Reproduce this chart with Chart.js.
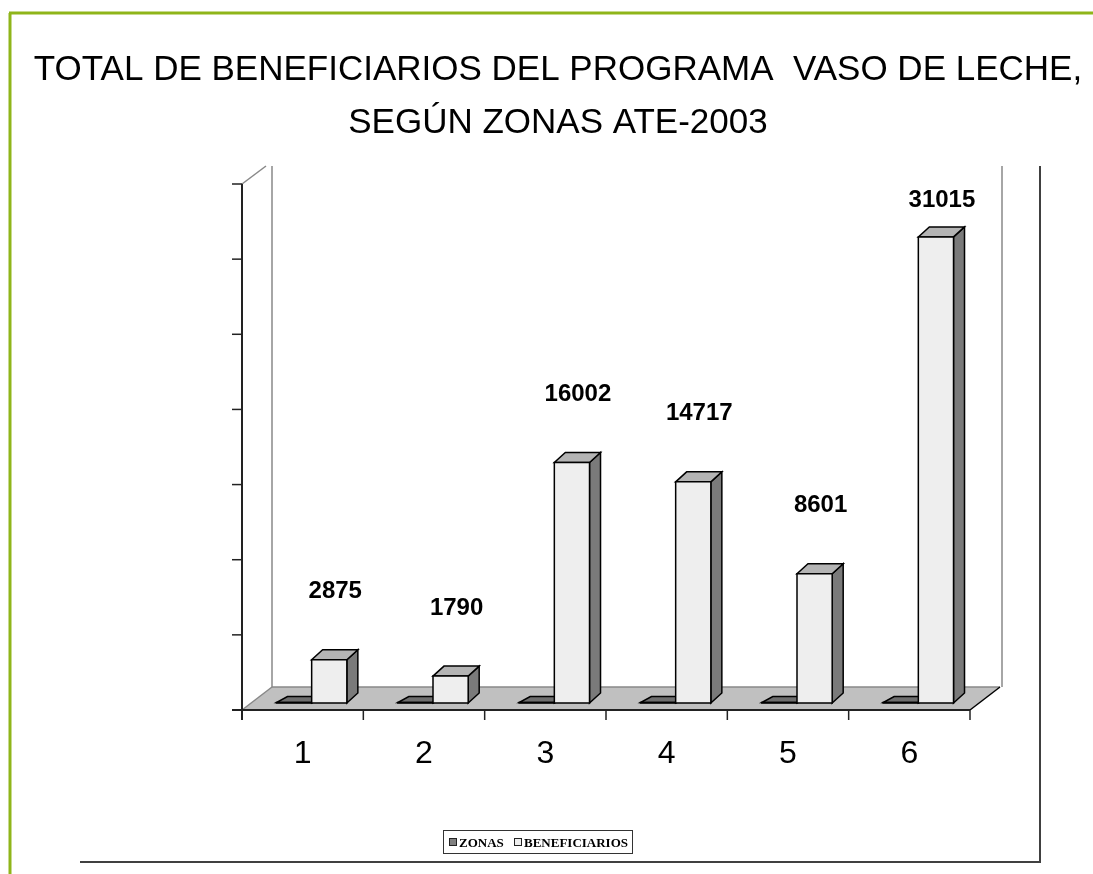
<!DOCTYPE html>
<html>
<head>
<meta charset="utf-8">
<script src="https://cdn.jsdelivr.net/npm/chart.js@4"></script>
<style>
  body { margin: 0; background: #fff; }
  #wrap { width: 1093px; height: 874px; position: relative; }
</style>
</head>
<body>
<div id="wrap"><canvas id="chart"></canvas></div>
<script>
// data ====================================
const categories = ["1", "2", "3", "4", "5", "6"];
const zonas = [1, 2, 3, 4, 5, 6];
const beneficiarios = [2875, 1790, 16002, 14717, 8601, 31015];
const yTicks = [0, 5000, 10000, 15000, 20000, 25000, 30000, 35000];
const titleLines = ["TOTAL DE BENEFICIARIOS DEL PROGRAMA  VASO DE LECHE,", "SEGÚN ZONAS ATE-2003"];

// 3d look
const floorDepth = { x: 30, y: -23 };
const barShift = { x: 9, y: -7 };
const barDepth = { x: 11, y: -10 };

function poly(ctx, pts, fill, stroke, lw) {
  ctx.beginPath();
  ctx.moveTo(pts[0][0], pts[0][1]);
  for (let i = 1; i < pts.length; i++) ctx.lineTo(pts[i][0], pts[i][1]);
  ctx.closePath();
  if (fill) { ctx.fillStyle = fill; ctx.fill(); }
  if (stroke) { ctx.strokeStyle = stroke; ctx.lineWidth = lw || 1; ctx.stroke(); }
}

function line(ctx, x1, y1, x2, y2, color, lw) {
  ctx.beginPath();
  ctx.moveTo(x1, y1);
  ctx.lineTo(x2, y2);
  ctx.strokeStyle = color;
  ctx.lineWidth = lw;
  ctx.stroke();
}

function box(ctx, x0, x1, yTop, yBase, d, colors) {
  poly(ctx, [[x1, yBase], [x1 + d.x, yBase + d.y], [x1 + d.x, yTop + d.y], [x1, yTop]], colors.side, "#000", 1.5);
  poly(ctx, [[x0, yTop], [x1, yTop], [x1 + d.x, yTop + d.y], [x0 + d.x, yTop + d.y]], colors.top, "#000", 1.5);
  poly(ctx, [[x0, yTop], [x1, yTop], [x1, yBase], [x0, yBase]], colors.front, "#000", 1.5);
}

const chart3d = {
  id: "chart3d",
  afterDatasetsDraw(chart) {
    const ctx = chart.ctx;
    const a = chart.chartArea;
    const xs = chart.scales.x;
    const ys = chart.scales.y;
    ctx.save();

    // frame
    line(ctx, 10, 13, 10, 874, "#8fb51a", 3);
    line(ctx, 9, 13, 1093, 13, "#8fb51a", 3);
    line(ctx, 1040, 166, 1040, 863, "#404040", 2);
    line(ctx, 80, 862, 1041, 862, "#404040", 2);

    // title
    ctx.fillStyle = "#000";
    ctx.font = "35px 'Liberation Sans', Arial, sans-serif";
    ctx.textAlign = "center";
    ctx.textBaseline = "alphabetic";
    ctx.fillText(titleLines[0], 558, 80);
    ctx.fillText(titleLines[1], 558, 133);

    // walls
    const bx = a.left + floorDepth.x, by = a.bottom + floorDepth.y;
    const wallTop = a.top - 18;
    line(ctx, a.left, a.top, a.left + 24, wallTop, "#888", 1.5);
    line(ctx, bx, wallTop, bx, by, "#888", 1.5);
    line(ctx, a.right + floorDepth.x + 2, wallTop, a.right + floorDepth.x + 2, by, "#888", 1.5);

    // floor
    poly(ctx, [[a.left, a.bottom], [a.right, a.bottom], [a.right + floorDepth.x, by], [bx, by]], "#c0c0c0", null);
    line(ctx, a.left, a.bottom, bx, by, "#888", 1.5);
    line(ctx, bx, by, a.right + floorDepth.x, by, "#888", 1.5);
    line(ctx, a.right, a.bottom, a.right + floorDepth.x, by, "#000", 1.5);

    // axes
    line(ctx, a.left, a.top, a.left, a.bottom + 10, "#222", 2);
    line(ctx, a.left - 10, a.bottom, a.right, a.bottom, "#222", 2);
    yTicks.forEach((v) => {
      const y = ys.getPixelForValue(v);
      line(ctx, a.left - 10, y, a.left, y, "#222", 1.5);
    });
    const step = (a.right - a.left) / categories.length;
    for (let i = 0; i <= categories.length; i++) {
      const x = a.left + step * i;
      line(ctx, x, a.bottom, x, a.bottom + 10, "#222", 1.5);
    }

    // bars
    const mz = chart.getDatasetMeta(0);
    const mb = chart.getDatasetMeta(1);
    categories.forEach((c, i) => {
      const z = mz.data[i];
      const zx0 = z.x - z.width / 2 + barShift.x, zx1 = z.x + z.width / 2 + barShift.x;
      const zb = z.base + barShift.y;
      box(ctx, zx0, zx1, Math.min(z.y + barShift.y, zb - 0.5), zb, { x: 11, y: -6 },
        { front: "#808080", side: "#606060", top: "#6e6e6e" });

      const b = mb.data[i];
      const x0 = b.x - b.width / 2 + barShift.x, x1 = b.x + b.width / 2 + barShift.x;
      const top = b.y + barShift.y;
      box(ctx, x0, x1, top, b.base + barShift.y, barDepth,
        { front: "#eeeeee", side: "#7a7a7a", top: "#b4b4b4" });
    });

    // value labels
    ctx.font = "bold 24px 'Liberation Sans', Arial, sans-serif";
    ctx.textBaseline = "middle";
    ctx.fillStyle = "#000";
    categories.forEach((c, i) => {
      const b = mb.data[i];
      const top = b.y + barShift.y;
      ctx.fillText(String(beneficiarios[i]), b.x + barShift.x + 6, Math.max(top - 68, a.top + 16));
    });

    // category labels
    ctx.font = "32px 'Liberation Sans', Arial, sans-serif";
    ctx.textBaseline = "alphabetic";
    categories.forEach((c, i) => {
      ctx.fillText(c, xs.getPixelForValue(i), 763);
    });

    // legend
    ctx.strokeStyle = "#333";
    ctx.lineWidth = 1;
    ctx.strokeRect(443.5, 830.5, 189, 23);
    const legend = [
      { x: 449, fill: "#808080", text: chart.data.datasets[0].label },
      { x: 514, fill: "#eeeeee", text: chart.data.datasets[1].label },
    ];
    ctx.font = "bold 13px 'Liberation Serif', 'Times New Roman', serif";
    ctx.textAlign = "left";
    legend.forEach((l) => {
      ctx.fillStyle = l.fill;
      ctx.fillRect(l.x + 0.5, 838.5, 7, 7);
      ctx.strokeStyle = "#222";
      ctx.strokeRect(l.x + 0.5, 838.5, 7, 7);
      ctx.fillStyle = "#000";
      ctx.fillText(l.text, l.x + 10, 847);
    });

    ctx.restore();
  },
};

new Chart(document.getElementById("chart"), {
  type: "bar",
  data: {
    labels: categories,
    datasets: [
      { label: "ZONAS", data: zonas, backgroundColor: "transparent", borderWidth: 0 },
      { label: "BENEFICIARIOS", data: beneficiarios, backgroundColor: "transparent", borderWidth: 0 },
    ],
  },
  options: {
    responsive: true,
    maintainAspectRatio: false,
    animation: false,
    events: [],
    layout: { padding: { left: 242, right: 123, top: 184, bottom: 164 } },
    datasets: { bar: { categoryPercentage: 0.58, barPercentage: 1 } },
    plugins: { legend: { display: false }, title: { display: false }, tooltip: { enabled: false } },
    scales: {
      x: { display: false, offset: true },
      y: { display: false, min: 0, max: 35000, ticks: { stepSize: 5000 } },
    },
  },
  plugins: [chart3d],
});
</script>
</body>
</html>
